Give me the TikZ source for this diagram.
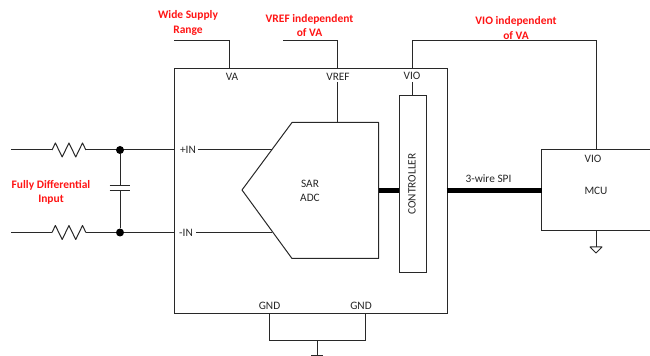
\documentclass[tikz,border=0pt]{standalone}
\usepackage{fontspec}
\setmainfont{Carlito}
\definecolor{wirec}{RGB}{40,40,40}
\definecolor{notec}{RGB}{255,20,20}
\tikzset{
  wire/.style={draw=wirec,line width=0.75pt},
  bus/.style={draw=black,line width=3.7pt},
  lbl/.style={inner sep=0pt,font=\fontsize{8.5pt}{10pt}\selectfont,text=black!85},
  note/.style={inner sep=0pt,align=center,font=\fontsize{8.6pt}{10.9pt}\selectfont\bfseries,text=notec},
  dotn/.style={circle,fill=black,inner sep=0pt,minimum size=6pt},
  res/.pic={\draw[wire,line join=round] (0,0) -- ++(3,-7) -- ++(6,14) -- ++(6,-14) -- ++(6,14) -- ++(6,-14) -- ++(3,7);}
}
\begin{document}
\begin{tikzpicture}[x=0.75pt,y=-0.75pt]
\useasboundingbox (0,0) rectangle (650,356);
% chip
\node[draw=wirec,line width=0.75pt,minimum width=272.5*0.75pt,minimum height=245*0.75pt,inner sep=0pt,anchor=north west] (chip) at (174,68) {};
% controller
\node[draw=wirec,line width=0.75pt,minimum width=27*0.75pt,minimum height=177*0.75pt,inner sep=0pt,anchor=north west,fill=white] (ctrl) at (399,95) {};
\node[lbl,rotate=90] (ctrltxt) at (412,184) {CONTROLLER};
% ADC
\coordinate (a1) at (292,122.5);
\coordinate (a2) at (378.5,122.5);
\coordinate (a3) at (378.5,258.5);
\coordinate (a4) at (292,258.5);
\coordinate (a5) at (242,190);
\draw[wire,line join=round] (a1) -- (a2) -- (a3) -- (a4) -- (a5) -- cycle;
\node[lbl] (sar) at (310,183.5) {SAR};
\node[lbl] (adc) at (310,197.5) {ADC};
% pin labels
\node[lbl] (pva) at (232,76.5) {VA};
\node[lbl] (pvref) at (338,76.5) {VREF};
\node[lbl] (pvio) at (412,75.5) {VIO};
\node[lbl] (pip) at (188,150) {+IN};
\node[lbl] (pin) at (186,232.5) {-IN};
\node[lbl] (g1) at (269.5,306) {GND};
\node[lbl] (g2) at (361,306) {GND};
% supplies
\coordinate (vaS) at (174,41);  \coordinate (vaC) at (229,41);  \coordinate (vaP) at (229,68);
\draw[wire] (vaS) -- (vaC) -- (vaP);
\coordinate (vrS) at (283,41);  \coordinate (vrC) at (337.5,41); \coordinate (vrP) at (337.5,68);
\draw[wire] (vrS) -- (vrC) -- (vrP);
\coordinate (vrI) at (337.5,82); \coordinate (vrA) at (337.5,122.5);
\draw[wire] (vrI) -- (vrA);
\coordinate (vP) at (412,68); \coordinate (vC1) at (412,41); \coordinate (vC2) at (596,41); \coordinate (vM) at (596,150);
\draw[wire] (vP) -- (vC1) -- (vC2) -- (vM);
\coordinate (vI) at (412,82); \coordinate (vT) at (412,95);
\draw[wire] (vI) -- (vT);
% MCU (runs off the right edge)
\coordinate (m1) at (650,150); \coordinate (m2) at (541.5,150); \coordinate (m3) at (541.5,231); \coordinate (m4) at (650,231);
\draw[wire] (m1) -- (m2) -- (m3) -- (m4);
\node[lbl] (mvio) at (593,158.5) {VIO};
\node[lbl] (mcu) at (596,190.5) {MCU};
% MCU ground
\coordinate (mg) at (596,231); \coordinate (mg2) at (596,247);
\draw[wire] (mg) -- (mg2);
\draw[wire,line join=round] (590,247) -- (602,247) -- (596,253) -- cycle;
% buses
\coordinate (b1) at (378.5,190.5); \coordinate (b2) at (399,190.5);
\draw[bus] (b1) -- (b2);
\coordinate (b3) at (446.5,190.5); \coordinate (b4) at (541.5,190.5);
\draw[bus] (b3) -- (b4);
\node[lbl] (spi) at (488.5,178.5) {3-wire SPI};
% inputs
\coordinate (i1) at (11,150); \coordinate (r1) at (52,150); \coordinate (r1e) at (86,150);
\coordinate (i2) at (11,232.5); \coordinate (r2) at (52,232.5); \coordinate (r2e) at (86,232.5);
\coordinate (p1) at (174,150); \coordinate (p2) at (174,232.5);
\coordinate (q1) at (198,150); \coordinate (q2) at (196,232.5);
\coordinate (e1) at (272,150); \coordinate (e2) at (272,232.5);
\draw[wire] (i1) -- (r1);
\draw[wire] (i2) -- (r2);
\path (r1) pic[xscale=1.13] {res};
\path (r2) pic[xscale=1.13] {res};
\draw[wire] (r1e) -- (p1);
\draw[wire] (r2e) -- (p2);
\draw[wire] (q1) -- (e1);
\draw[wire] (q2) -- (e2);
\node[dotn] (d1) at (120,150) {};
\node[dotn] (d2) at (120,232.5) {};
\coordinate (c1) at (120,186); \coordinate (c2) at (120,191);
\draw[wire] (d1) -- (c1);
\draw[wire] (c2) -- (d2);
\draw[wire] (109.5,186) -- (130,186);
\draw[wire] (109.5,191) -- (130,191);
% ground
\coordinate (g1p) at (269.5,313); \coordinate (g1c) at (269.5,340);
\coordinate (g2p) at (365,313); \coordinate (g2c) at (365,340);
\coordinate (gs) at (317,340); \coordinate (gb) at (317,355);
\draw[wire] (g1p) -- (g1c) -- (g2c) -- (g2p);
\draw[wire] (gs) -- (gb);
\draw[wire] (311,355) -- (323,355);
% notes
\node[note] (n1) at (188,23) {Wide Supply\\Range};
\node[note] (n2) at (309.5,25.5) {VREF independent\\of VA};
\node[note] (n3) at (516,28) {VIO independent\\of VA};
\node[note] (n4) at (51,192.5) {Fully Differential\\Input};
\end{tikzpicture}
\end{document}
